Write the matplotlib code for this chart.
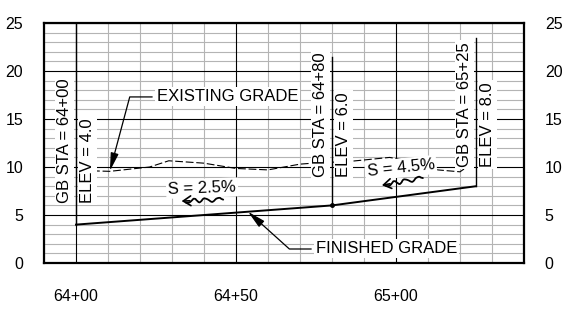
import matplotlib
matplotlib.use('Agg')
import matplotlib.pyplot as plt
from matplotlib.ticker import MultipleLocator

plt.rcParams['font.family'] = ['Liberation Sans', 'DejaVu Sans']

# stations in feet (64+00 -> 6400)
station_ticks = [6400, 6450, 6500]
station_labels = ['64+00', '64+50', '65+00']
elev_ticks = [0, 5, 10, 15, 20, 25]

# finished grade (grade breaks)
fg_sta = [6400, 6480, 6525]
fg_elev = [4.0, 6.0, 8.0]

# existing grade
eg_sta = [6405, 6410.6, 6423, 6429, 6440, 6450, 6460, 6470, 6474, 6486,
          6498, 6503, 6513, 6520, 6523]
eg_elev = [9.6, 9.55, 10.0, 10.65, 10.4, 9.85, 9.7, 10.3, 10.4, 10.6,
           11.0, 10.7, 9.7, 9.5, 10.2]

# grade break callouts: station, elevation, top of leader, bottom of text
gb_sta = [6400, 6480, 6525]
gb_lbl = ['64+00', '64+80', '65+25']
gb_elev = [4.0, 6.0, 8.0]
gb_top = [25.0, 21.5, 23.4]
gb_txt = [6.25, 8.95, 10.0]

fig = plt.figure(figsize=(5.73, 3.17), dpi=100)
ax = fig.add_axes([0.0768, 0.1703, 0.9145 - 0.0768, 0.9274 - 0.1703])

ax.set_xlim(6390, 6540)
ax.set_ylim(0, 25)
ax.set_xticks(station_ticks)
ax.set_xticklabels(station_labels)
ax.set_yticks(elev_ticks)
ax.xaxis.set_minor_locator(MultipleLocator(10))
ax.yaxis.set_minor_locator(MultipleLocator(1))
ax.grid(which='minor', color='#b4b4b4', lw=0.8, zorder=0)
for x in station_ticks:
    ax.axvline(x, color='black', lw=0.8, zorder=1)
for y in elev_ticks:
    ax.axhline(y, color='black', lw=0.8, zorder=1)
ax.set_axisbelow(True)
ax.tick_params(which='both', length=0, labelsize=11.5)
ax.tick_params(axis='x', pad=19)
ax.tick_params(axis='y', pad=15, labelright=True)
for s in ax.spines.values():
    s.set_linewidth(1.6)
    s.set_zorder(6)

# existing and finished grade
ax.plot(eg_sta, eg_elev, color='black', lw=0.8, dashes=(7, 2.5), zorder=2)
ax.plot(fg_sta, fg_elev, color='black', lw=1.4, zorder=3)
ax.plot(fg_sta[1], fg_elev[1], 'o', color='black', ms=2.5, zorder=3)

# grade break leaders and labels
box = dict(boxstyle='square,pad=0.12', fc='white', ec='none')
for sta, lbl, el, top, yb in zip(gb_sta, gb_lbl, gb_elev, gb_top, gb_txt):
    ax.plot([sta, sta], [el, top], color='black', lw=1.0, zorder=4)
    ax.annotate('GB STA = ' + lbl, (sta, yb), xytext=(-3, 0),
                textcoords='offset points', rotation=90, ha='right',
                va='bottom', fontsize=12, bbox=box, zorder=3.5)
    ax.annotate('ELEV = %.1f' % el, (sta, yb), xytext=(3, 0),
                textcoords='offset points', rotation=90, ha='left',
                va='bottom', fontsize=12, bbox=box, zorder=3.5)

# callouts with leaders
head = '-|>,head_length=0.9,head_width=0.2'
ax.annotate('EXISTING GRADE', xy=(6410.6, 9.6), xytext=(6425.3, 17.3),
            fontsize=12, va='center', ha='left', bbox=box, zorder=5,
            arrowprops=dict(arrowstyle=head, fc='black', ec='black', lw=0.9,
                            relpos=(0, 0.5), shrinkA=2, shrinkB=0,
                            connectionstyle='angle,angleA=0,angleB=75,rad=0'))
ax.annotate('FINISHED GRADE', xy=(6453.75, 5.34), xytext=(6475, 1.46),
            fontsize=12, va='center', ha='left', bbox=box, zorder=5,
            arrowprops=dict(arrowstyle=head, fc='black', ec='black', lw=0.9,
                            relpos=(0, 0.5), shrinkA=2, shrinkB=0,
                            connectionstyle='angle,angleA=0,angleB=-42,rad=0'))

# slopes
ax.text(6439.4, 7.8, 'S = 2.5%', fontsize=12, ha='center', va='center',
        rotation=2, bbox=box, zorder=5)
ax.text(6501.5, 9.9, 'S = 4.5%', fontsize=12, ha='center', va='center',
        rotation=6, bbox=box, zorder=5)
for tip, tail in [((6433, 6.45), (6446, 6.6)), ((6495.6, 8.1), (6508.4, 8.85))]:
    a = ax.annotate('', xy=tip, xytext=tail, zorder=5,
                    arrowprops=dict(arrowstyle='-', color='black', lw=1.3,
                                    shrinkA=0, shrinkB=3))
    a.arrow_patch.set_sketch_params(scale=2, length=14, randomness=2)
    ax.annotate('', xy=tip, xytext=(tip[0] + 2.5, tip[1] + (tail[1] - tip[1]) * 0.2),
                zorder=5,
                arrowprops=dict(arrowstyle='->,head_length=0.55,head_width=0.35',
                                color='black', lw=1.2, shrinkA=0, shrinkB=0))

fig.savefig('out.png', dpi=100)
